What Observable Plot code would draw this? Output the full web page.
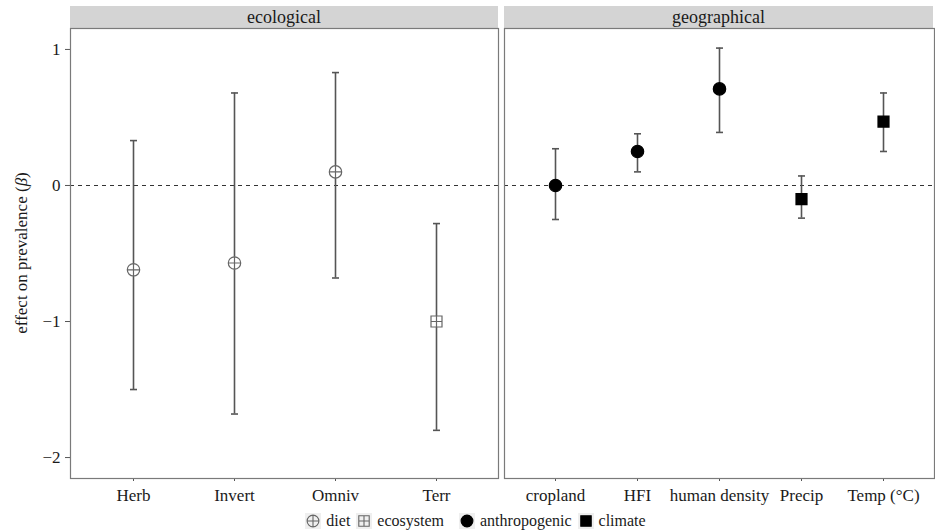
<!DOCTYPE html>
<html>
<head>
<meta charset="utf-8">
<script src="https://cdn.jsdelivr.net/npm/d3@7"></script>
<script src="https://cdn.jsdelivr.net/npm/@observablehq/plot@0.6"></script>
<style>
  html, body { margin: 0; padding: 0; background: #fff; }
  #wrap { position: relative; width: 935px; height: 532px; font-family: "Liberation Serif", serif; color: #1a1a1a; overflow: hidden; }
  .strip { position: absolute; top: 6px; height: 22px; background: #d4d4d4; font-size: 18px; line-height: 22px; text-align: center; }
  .plot { position: absolute; top: 0; }
  #ylab { position: absolute; left: 22px; top: 253px; transform: translate(-50%, -50%) rotate(-90deg); font-size: 17px; white-space: nowrap; }
  #legend { position: absolute; left: 8px; top: 511px; width: 935px; height: 20px; display: flex; justify-content: center; align-items: center; font-size: 16px; }
  #legend .item { display: flex; align-items: center; margin: 0 3px; }
  #legend svg { background: #efefef; margin-right: 5px; }
</style>
</head>
<body>
<div id="wrap">
  <div class="strip" style="left:70px;width:428px;">ecological</div>
  <div class="strip" style="left:504px;width:429px;">geographical</div>
  <div id="ylab">effect on prevalence (<i>β</i>)</div>
  <div id="legend"></div>
</div>
<script>
// ---- data ----
const ecoCats = ["Herb", "Invert", "Omniv", "Terr"];
const ecoEst  = [-0.62, -0.57, 0.10, -1.00];
const ecoLo   = [-1.50, -1.68, -0.68, -1.80];
const ecoHi   = [0.33, 0.68, 0.83, -0.28];
const ecoType = ["diet", "diet", "diet", "ecosystem"];

const geoCats = ["cropland", "HFI", "human density", "Precip", "Temp (°C)"];
const geoEst  = [0.00, 0.25, 0.71, -0.10, 0.47];
const geoLo   = [-0.25, 0.10, 0.39, -0.24, 0.25];
const geoHi   = [0.27, 0.38, 1.01, 0.07, 0.68];
const geoType = ["anthropogenic", "anthropogenic", "anthropogenic", "climate", "climate"];

const yTicks = [-2, -1, 0, 1];
const types = ["diet", "ecosystem", "anthropogenic", "climate"];

// ---- symbols ----
const circlePlus = { draw(ctx, size) { const r = Math.sqrt(size / Math.PI);
  ctx.moveTo(r, 0); ctx.arc(0, 0, r, 0, 2 * Math.PI);
  ctx.moveTo(-r, 0); ctx.lineTo(r, 0); ctx.moveTo(0, -r); ctx.lineTo(0, r); } };
const squarePlus = { draw(ctx, size) { const h = Math.sqrt(size) / 2;
  ctx.moveTo(-h, -h); ctx.lineTo(h, -h); ctx.lineTo(h, h); ctx.lineTo(-h, h); ctx.closePath();
  ctx.moveTo(-h, 0); ctx.lineTo(h, 0); ctx.moveTo(0, -h); ctx.lineTo(0, h); } };
const capSym = { draw(ctx, size) { const w = 3.5;
  ctx.moveTo(-w, 0); ctx.lineTo(w, 0); } };
const symRange = [circlePlus, squarePlus, d3.symbolCircle, d3.symbolSquare];
const fillOf = {diet: "white", ecosystem: "white", anthropogenic: "black", climate: "black"};
const strokeOf = {diet: "#666", ecosystem: "#666", anthropogenic: "black", climate: "black"};
const rOf = {diet: 6.2, ecosystem: 6.2, anthropogenic: 6.2, climate: 6.2};

function rows(cats, est, lo, hi, type) {
  return cats.map((c, i) => ({cat: c, est: est[i], lo: lo[i], hi: hi[i], type: type[i]}));
}

const fmt = d => d3.format("d")(d).replace("-", "\u2212");

function panel(data, cats, opts) {
  return Plot.plot({
    width: opts.width, height: 512,
    marginLeft: opts.ml, marginRight: opts.mr, marginTop: 28, marginBottom: 34,
    style: {fontFamily: "Liberation Serif, serif", fontSize: "17px", color: "#1a1a1a", background: "transparent"},
    x: {type: "point", domain: cats, padding: 0.6},
    y: {domain: [-2.154, 1.154]},
    symbol: {domain: types, range: symRange},
    color: {type: "identity"},
    r: {type: "identity"},
    marks: [
      opts.yaxis ? Plot.axisY({ticks: yTicks, tickFormat: fmt, tickSize: 5, tickPadding: 5, stroke: "#555", label: null, fontSize: 17}) : Plot.axisY({ticks: [], label: null}),
      Plot.axisX({tickSize: 3, tickPadding: 7, stroke: "#555", label: null, fontSize: 17}),
      Plot.ruleY([0], {stroke: "#333", strokeWidth: 1.1, strokeDasharray: "4,4"}),
      Plot.ruleX(data, {x: "cat", y1: "lo", y2: "hi", stroke: "#555", strokeWidth: 1.6}),
      Plot.dot(data, {x: "cat", y: "lo", symbol: () => capSym, r: 3, stroke: "#555", strokeWidth: 1.6}),
      Plot.dot(data, {x: "cat", y: "hi", symbol: () => capSym, r: 3, stroke: "#555", strokeWidth: 1.6}),
      Plot.dot(data, {x: "cat", y: "est", symbol: "type", r: d => rOf[d.type], fill: d => fillOf[d.type], stroke: d => strokeOf[d.type], strokeWidth: 1.2}),
      Plot.frame({stroke: "#7a7a7a", strokeWidth: 1.2})
    ]
  });
}

const wrap = document.getElementById("wrap");
const left = panel(rows(ecoCats, ecoEst, ecoLo, ecoHi, ecoType), ecoCats, {width: 501, ml: 70, mr: 3, yaxis: true});
left.classList.add("plot"); left.style.left = "0px";
wrap.appendChild(left);
const right = panel(rows(geoCats, geoEst, geoLo, geoHi, geoType), geoCats, {width: 434, ml: 3, mr: 1, yaxis: false});
right.classList.add("plot"); right.style.left = "501px";
wrap.appendChild(right);

// ---- legend ----
const leg = document.getElementById("legend");
types.forEach((t, i) => {
  const item = document.createElement("div");
  item.className = "item";
  if (i === 2) item.style.marginLeft = "12px";
  const path = d3.symbol(symRange[i], Math.PI * rOf[t] * rOf[t] * 0.9)();
  item.innerHTML = `<svg width="16" height="16" viewBox="-8 -8 16 16"><path d="${path}" fill="${fillOf[t] === "white" ? "none" : "black"}" stroke="${strokeOf[t]}" stroke-width="1.1"/></svg><span>${t}</span>`;
  leg.appendChild(item);
});
</script>
</body>
</html>
